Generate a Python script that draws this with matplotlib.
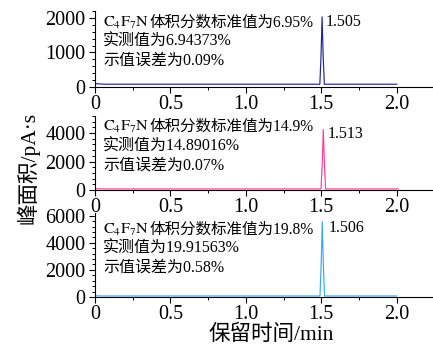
import matplotlib
matplotlib.use("Agg")
import matplotlib.pyplot as plt
from matplotlib.ticker import MultipleLocator, AutoMinorLocator

plt.rcParams['font.family'] = ['Liberation Serif', 'Noto Sans CJK SC', 'DejaVu Sans']
plt.rcParams['mathtext.fontset'] = 'stix'

# ---- data ----
t1 = [0.0, 0.03, 0.06, 1.490, 1.498, 1.505, 1.512, 1.520, 2.0]
y1 = [100, 90, 80, 80, 900, 2030, 900, 80, 80]
t2 = [0.0, 0.03, 0.06, 1.498, 1.506, 1.513, 1.520, 1.528, 2.01]
y2 = [90, 80, 75, 75, 1900, 4250, 1900, 75, 75]
t3 = [0.0, 0.03, 0.06, 1.491, 1.499, 1.506, 1.513, 1.521, 2.0]
y3 = [90, 80, 75, 75, 2500, 5550, 2500, 75, 75]

peak_labels = ["1.505", "1.513", "1.506"]
std_vals = ["6.95%", "14.9%", "19.8%"]
meas_vals = ["6.94373%", "14.89016%", "19.91563%"]
err_vals = ["0.09%", "0.07%", "0.58%"]
xticks = [0, 0.5, 1.0, 1.5, 2.0]
xticklabels = ["0", "0.5", "1.0", "1.5", "2.0"]
colors = ["#23239e", "#ff3d9a", "#3aa8f5"]
ylims = [2200, 5200, 6200]
ymajor = [1000, 2000, 2000]

W, H = 433, 349
fig = plt.figure(figsize=(W / 100, H / 100), dpi=100)

# axes boxes in pixels: (bottom, top)
boxes = [(87, 11), (190, 116), (297, 213)]
left_px = 95
series = [(t1, y1), (t2, y2), (t3, y3)]
text_base = [(27, 46, 65), (131, 151, 170), (234, 253, 272)]
peak_pos = [(326, 26), (328, 138), (329, 232)]

for i in range(3):
    b, t = boxes[i]
    ax = fig.add_axes([left_px / W, 1 - b / H, 1 - left_px / W, (b - t) / H])
    tx, ty = series[i]
    ax.plot(tx, ty, color=colors[i], lw=0.85)
    ax.set_xlim(0, 2.24)
    ax.set_ylim(0, ylims[i])
    ax.set_xticks(xticks)
    ax.set_xticklabels(xticklabels)
    ax.xaxis.set_minor_locator(MultipleLocator(0.25))
    ax.yaxis.set_major_locator(MultipleLocator(ymajor[i]))
    ax.yaxis.set_minor_locator(AutoMinorLocator(5))
    for s in ['top', 'right']:
        ax.spines[s].set_visible(False)
    for s in ['left', 'bottom']:
        ax.spines[s].set_linewidth(0.8)
    ax.tick_params(axis='both', which='major', direction='out', length=4, width=0.8,
                   labelsize=14.5, pad=2)
    ax.tick_params(axis='both', which='minor', direction='out', length=2.5, width=0.7)
    ax.tick_params(axis='y', which='major', pad=3)

    # annotation text
    xs = 103 / W
    l1, l2, l3 = text_base[i]
    t_c = fig.text(xs, 1 - l1 / H, r"C$_4$F$_7$N", fontsize=11.5, va='baseline',
                   ha='left', family='STIXGeneral')
    fig.canvas.draw()
    bb = t_c.get_window_extent()
    fig.text(bb.x1 / W, 1 - l1 / H, "体积分数标准值为" + std_vals[i], fontsize=11.2,
             va='baseline', ha='left')
    fig.text(xs, 1 - l2 / H, "实测值为" + meas_vals[i], fontsize=11.5,
             va='baseline', ha='left')
    fig.text(xs, 1 - l3 / H, "示值误差为" + err_vals[i], fontsize=11.5,
             va='baseline', ha='left')
    px, py = peak_pos[i]
    fig.text(px / W, 1 - py / H, peak_labels[i], fontsize=11.5, va='baseline', ha='left')

fig.text(28 / W, 1 - 168 / H, "峰面积/pA·s", rotation=90, fontsize=15.5,
         ha='center', va='center')
fig.text(271 / W, 1 - 335 / H, "保留时间/min", fontsize=15.5, ha='center', va='center')

fig.savefig("out.png", dpi=100)
